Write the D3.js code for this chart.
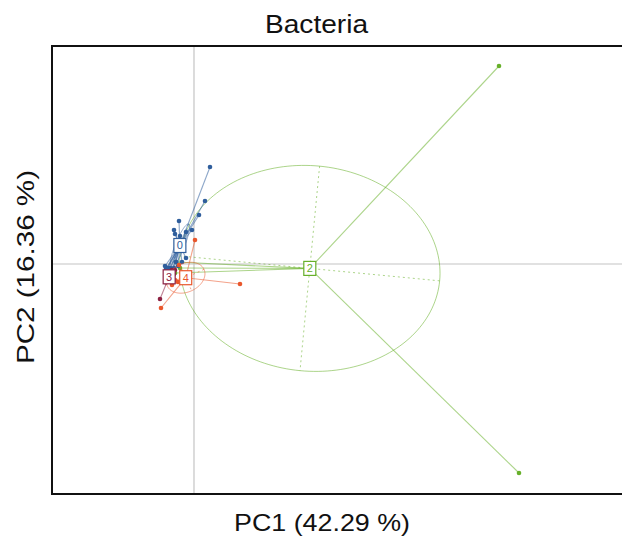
<!DOCTYPE html>
<html>
<head>
<meta charset="utf-8">
<script src="https://cdn.jsdelivr.net/npm/d3@7"></script>
<style>
  html, body { margin: 0; padding: 0; background: #fff; }
  svg { display: block; font-family: "Liberation Sans", Arial, sans-serif; }
</style>
</head>
<body>
<svg id="chart" width="622" height="541"></svg>
<script>
// Sample scores on the first two principal coordinates, with group membership
const groupNames = ["0", "2", "3", "4"];
const groupColors = ["#2f5e9c", "#67b02a", "#8c2142", "#e9572c"];

const sampleGroup = [
  "0","0","0","0","0","0","0","0","0","0","0","0","0","0","0","0","0","0","0","0","0","0",
  "2","2","2","2","2",
  "3","3","3","3","3","3",
  "4","4","4","4","4","4","4"
];
const pc1 = [
  0.04, 0.0275, 0.0125, -0.005, -0.0375, -0.05, -0.0475, -0.035, -0.02, -0.0275, -0.06,
  -0.05, -0.04, -0.07, -0.03, -0.02, -0.045, -0.065, -0.055, -0.0725, -0.06, -0.0675,
  0.7625, 0.8125, -0.045, -0.035, -0.0475,
  -0.085, -0.065, -0.055, -0.05, -0.07, -0.0475,
  0.0025, 0.115, -0.0825, -0.0375, -0.04, -0.055, -0.0475
];
const pc2 = [
  0.2425, 0.1575, 0.1225, 0.085, 0.1075, 0.085, 0.075, 0.07, 0.08, 0.06, -0.01,
  -0.01, -0.005, -0.0125, 0.005, 0.015, 0.005, -0.01, -0.015, -0.005, -0.015, -0.01,
  0.495, -0.5225, 0.005, -0.01, -0.0225,
  -0.0875, -0.02, -0.015, -0.025, -0.03, -0.015,
  0.06, -0.05, -0.11, -0.0025, -0.045, -0.0525, -0.04
];

const titleText = "Bacteria";
const xLabel = "PC1 (42.29 %)";
const yLabel = "PC2 (16.36 %)";
const ellipseScale = 0.8;

const svg = d3.select("#chart");
const box = { left: 52, top: 46, right: 624, bottom: 494 };

const x = d3.scaleLinear().domain([-0.355, 1.075]).range([box.left, box.right]);
const y = d3.scaleLinear().domain([-0.575, 0.545]).range([box.bottom, box.top]);

const samples = pc1.map((v, i) => ({ x: v, y: pc2[i], g: sampleGroup[i] }));
const color = d3.scaleOrdinal().domain(groupNames).range(groupColors);

// Origin cross
svg.append("line").attr("x1", x(0)).attr("x2", x(0)).attr("y1", box.top).attr("y2", box.bottom)
  .attr("stroke", "#c4c4c4").attr("stroke-width", 1.2);
svg.append("line").attr("x1", box.left).attr("x2", box.right).attr("y1", y(0)).attr("y2", y(0))
  .attr("stroke", "#c4c4c4").attr("stroke-width", 1.2);

// Group statistics: centroid and covariance ellipse
const stats = groupNames.map(g => {
  const pts = samples.filter(s => s.g === g);
  const mx = d3.mean(pts, p => p.x), my = d3.mean(pts, p => p.y);
  const vx = d3.mean(pts, p => (p.x - mx) ** 2);
  const vy = d3.mean(pts, p => (p.y - my) ** 2);
  const cxy = d3.mean(pts, p => (p.x - mx) * (p.y - my));
  const theta = 0.5 * Math.atan2(2 * cxy, vx - vy);
  const half = (vx + vy) / 2, root = Math.sqrt(((vx - vy) / 2) ** 2 + cxy ** 2);
  const a = ellipseScale * Math.sqrt(half + root);
  const b = ellipseScale * Math.sqrt(Math.max(half - root, 0));
  const at = t => [
    mx + a * Math.cos(t) * Math.cos(theta) - b * Math.sin(t) * Math.sin(theta),
    my + a * Math.cos(t) * Math.sin(theta) + b * Math.sin(t) * Math.cos(theta)
  ];
  return { g, pts, mx, my, at };
});

const drawOrder = ["2", "0", "3", "4"];
const byName = Object.fromEntries(stats.map(s => [s.g, s]));

drawOrder.forEach(g => {
  const s = byName[g];
  const c = color(g);
  const layer = svg.append("g");
  // ellipse outline
  const ring = d3.range(0, 2 * Math.PI + 0.001, Math.PI / 90).map(s.at);
  layer.append("path")
    .attr("d", d3.line().x(p => x(p[0])).y(p => y(p[1]))(ring))
    .attr("fill", "none").attr("stroke", c).attr("stroke-opacity", 0.55).attr("stroke-width", 1);
  // ellipse axes
  [[0, Math.PI], [Math.PI / 2, 3 * Math.PI / 2]].forEach(([t0, t1]) => {
    const p0 = s.at(t0), p1 = s.at(t1);
    layer.append("line")
      .attr("x1", x(p0[0])).attr("y1", y(p0[1])).attr("x2", x(p1[0])).attr("y2", y(p1[1]))
      .attr("stroke", c).attr("stroke-opacity", 0.55).attr("stroke-width", 1)
      .attr("stroke-dasharray", "2,3");
  });
  // star segments from centroid to each sample
  layer.selectAll("line.star").data(s.pts).join("line").attr("class", "star")
    .attr("x1", x(s.mx)).attr("y1", y(s.my))
    .attr("x2", d => x(d.x)).attr("y2", d => y(d.y))
    .attr("stroke", c).attr("stroke-opacity", 0.55).attr("stroke-width", 1.1);
  // sample points
  layer.selectAll("circle").data(s.pts).join("circle")
    .attr("cx", d => x(d.x)).attr("cy", d => y(d.y)).attr("r", 2.3)
    .attr("fill", c);
});

// Group labels at centroids
drawOrder.forEach(g => {
  const s = byName[g];
  const c = color(g);
  const lg = svg.append("g").attr("transform", `translate(${x(s.mx)},${y(s.my)})`);
  lg.append("rect").attr("x", -6).attr("y", -7).attr("width", 12).attr("height", 14)
    .attr("fill", "#fff").attr("stroke", c).attr("stroke-width", 1.2);
  lg.append("text").attr("text-anchor", "middle").attr("dy", "0.36em")
    .attr("font-size", 11).attr("fill", c).text(g);
});

// Frame
svg.append("rect").attr("x", box.left).attr("y", box.top)
  .attr("width", box.right - box.left).attr("height", box.bottom - box.top)
  .attr("fill", "none").attr("stroke", "#111").attr("stroke-width", 2);

// Titles
svg.append("text").attr("x", 316.5).attr("y", 33).attr("text-anchor", "middle")
  .attr("font-size", 25).attr("fill", "#111")
  .attr("textLength", 103).attr("lengthAdjust", "spacingAndGlyphs").text(titleText);
svg.append("text").attr("x", 322).attr("y", 531).attr("text-anchor", "middle")
  .attr("font-size", 24).attr("fill", "#111")
  .attr("textLength", 176).attr("lengthAdjust", "spacingAndGlyphs").text(xLabel);
svg.append("text").attr("transform", "translate(34,267) rotate(-90)").attr("text-anchor", "middle")
  .attr("font-size", 24).attr("fill", "#111")
  .attr("textLength", 194).attr("lengthAdjust", "spacingAndGlyphs").text(yLabel);
</script>
</body>
</html>
